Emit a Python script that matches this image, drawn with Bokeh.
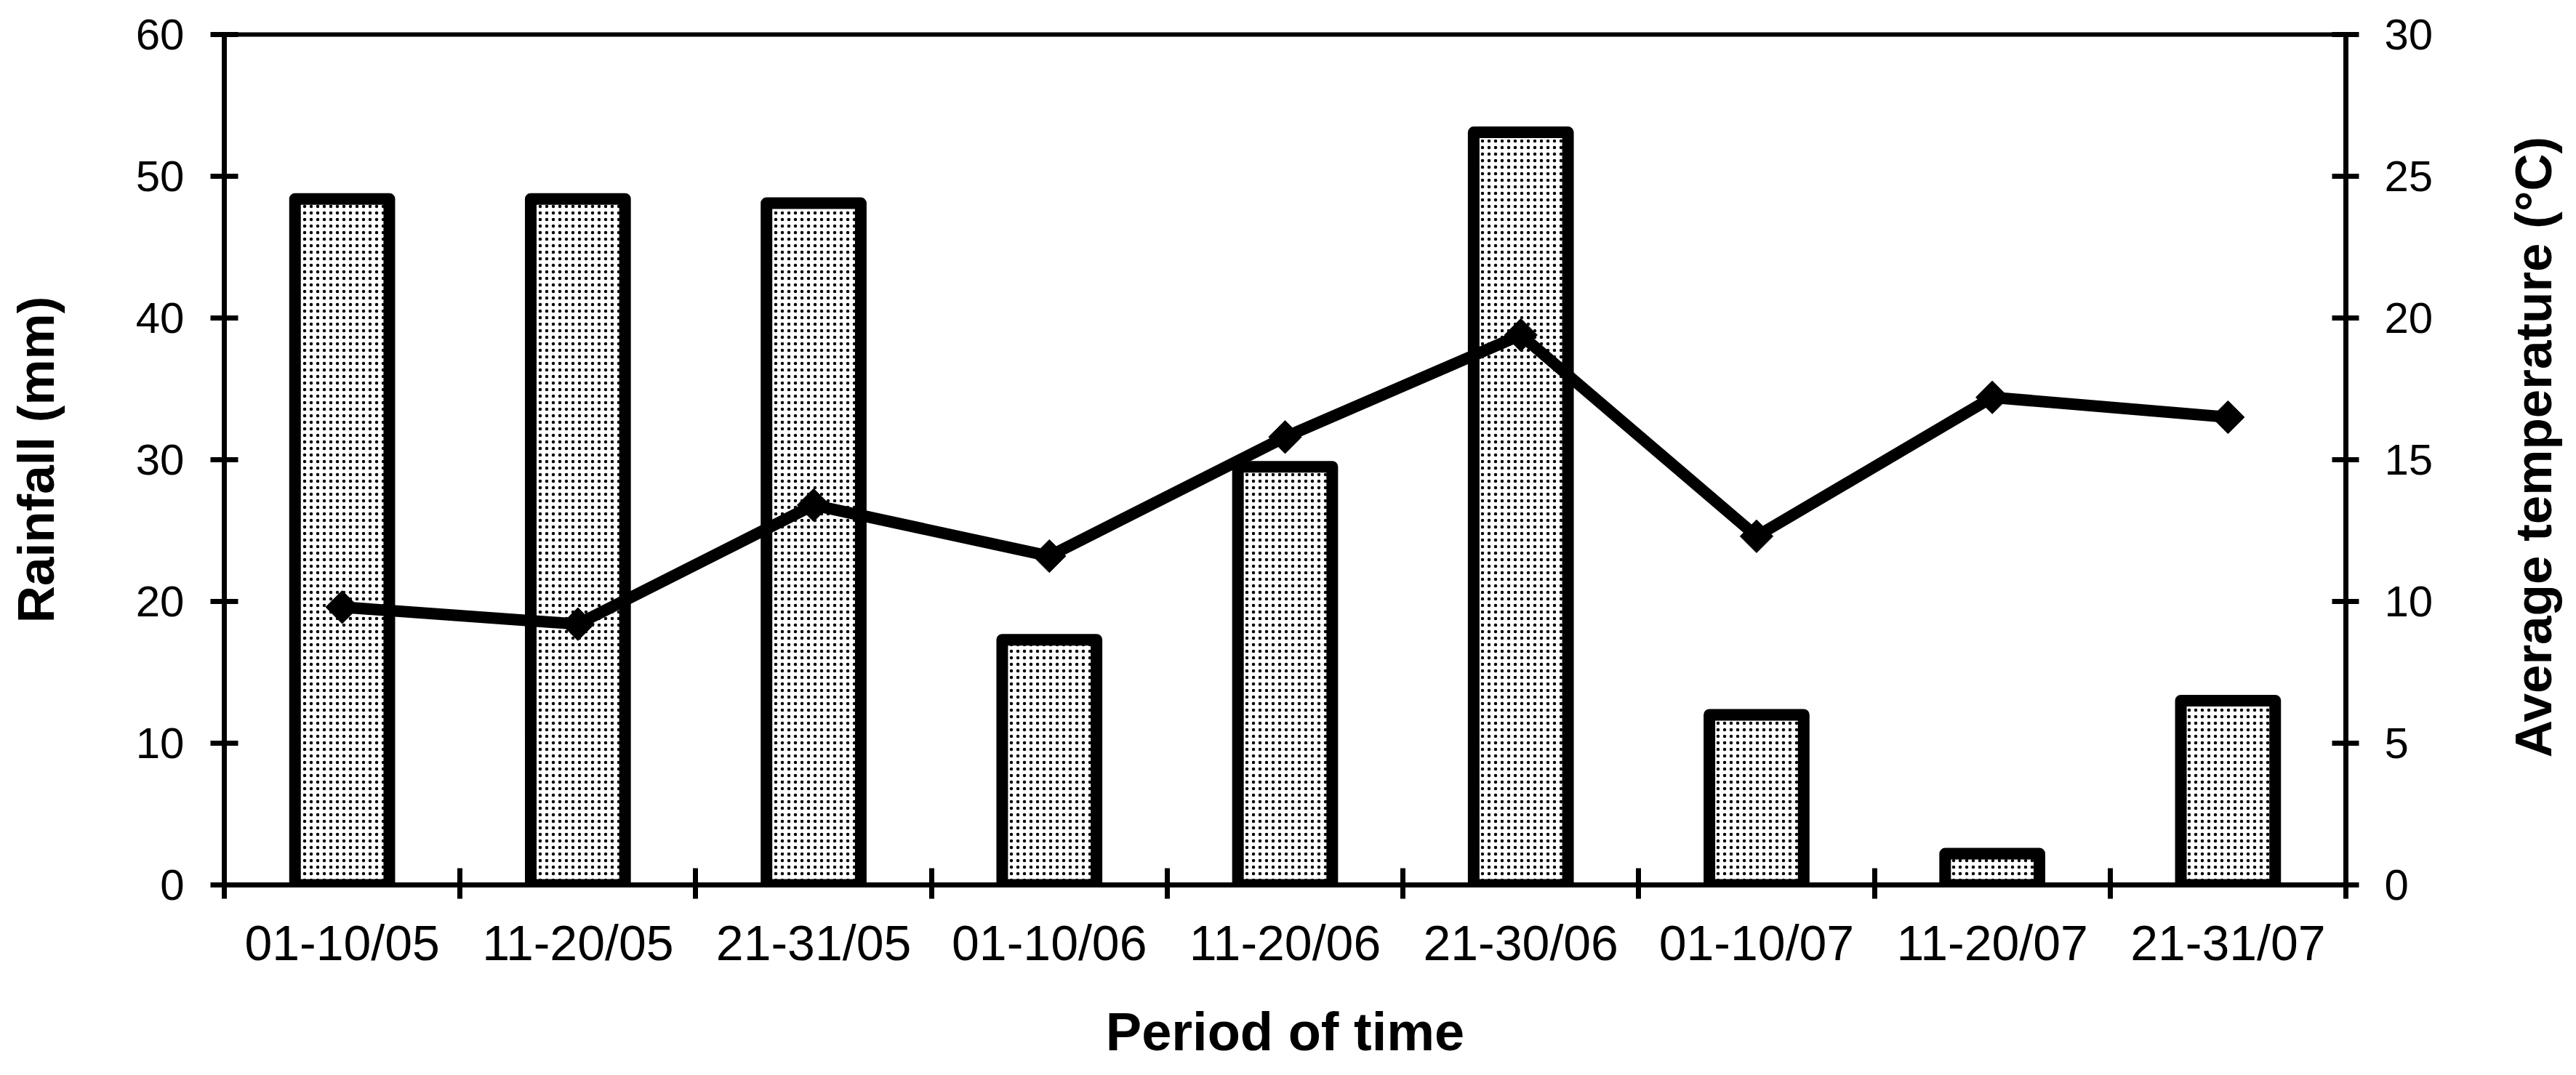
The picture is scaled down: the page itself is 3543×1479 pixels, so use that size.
import math
from bokeh.plotting import figure
from bokeh.layouts import row
from bokeh.models import Range1d, LinearAxis, FixedTicker, Label
from bokeh.embed import file_html
from bokeh.resources import INLINE

# ---- data ----
periods = ["01-10/05", "11-20/05", "21-31/05", "01-10/06", "11-20/06",
           "21-30/06", "01-10/07", "11-20/07", "21-31/07"]
rainfall = [48.4, 48.4, 48.1, 17.3, 29.5, 53.1, 12.0, 2.2, 13.0]
temperature = [9.8, 9.2, 13.4, 11.6, 15.8, 19.4, 12.3, 17.2, 16.5]
rain_ticks = [0, 10, 20, 30, 40, 50, 60]
temp_ticks = [0, 5, 10, 15, 20, 25, 30]

n = len(periods)
xc = [i + 0.5 for i in range(n)]
bounds = list(range(n + 1))

FONT = "Liberation Sans"
TOTAL_W, H = 3527, 1463
TITLE_W = 107
MAIN_W = TOTAL_W - TITLE_W
TOP, BOTTOM = 47, 245

p = figure(width=MAIN_W, height=H, output_backend="svg", toolbar_location=None,
           x_range=Range1d(0, n), y_range=Range1d(rain_ticks[0], rain_ticks[-1]),
           min_border_left=308, min_border_right=MAIN_W - 3226,
           min_border_top=TOP, min_border_bottom=BOTTOM)
p.extra_y_ranges = {"temp": Range1d(temp_ticks[0], temp_ticks[-1])}

p.xgrid.visible = False
p.ygrid.visible = False
p.background_fill_color = "white"
p.border_fill_color = "white"
p.outline_line_color = "black"
p.outline_line_width = 6

p.vbar(x=xc, top=rainfall, bottom=0, width=0.4, fill_color="white",
       line_color="black", line_width=16, line_join="round",
       hatch_pattern="dot", hatch_color="black", hatch_scale=9,
       hatch_weight=4)

p.line(x=xc, y=temperature, y_range_name="temp", line_color="black",
       line_width=16, line_join="miter")
p.scatter(x=xc, y=temperature, y_range_name="temp", marker="square",
          angle=math.pi / 4, size=32, fill_color="black", line_color="black",
          line_width=1)

# bottom axis: labels at category centres, ticks (minor) at boundaries
xa = p.xaxis[0]
xa.ticker = FixedTicker(ticks=xc, minor_ticks=bounds)
xa.major_label_overrides = {v: s for v, s in zip(xc, periods)}
xa.major_tick_in = 0
xa.major_tick_out = 0
xa.major_tick_line_color = None
xa.minor_tick_in = 23
xa.minor_tick_out = 19
xa.minor_tick_line_color = "black"
xa.minor_tick_line_width = 7
xa.axis_line_width = 7
xa.major_label_standoff = 22
xa.major_label_text_font = FONT
xa.major_label_text_font_size = "68px"
xa.major_label_text_color = "black"
xa.axis_label = "Period of time"
xa.axis_label_text_font = FONT
xa.axis_label_text_font_size = "74px"
xa.axis_label_text_font_style = "bold"
xa.axis_label_text_color = "black"
xa.axis_label_standoff = 40

# left axis
ya = p.yaxis[0]
ya.ticker = FixedTicker(ticks=rain_ticks)
ya.major_tick_in = 19
ya.major_tick_out = 19
ya.major_tick_line_width = 7
ya.axis_line_width = 7
ya.minor_tick_line_color = None
ya.major_label_standoff = 36
ya.major_label_text_font = FONT
ya.major_label_text_font_size = "60px"
ya.major_label_text_color = "black"
ya.axis_label = "Rainfall (mm)"
ya.axis_label_text_font = FONT
ya.axis_label_text_font_size = "71px"
ya.axis_label_text_font_style = "bold"
ya.axis_label_text_color = "black"
ya.axis_label_standoff = 95

# right axis
yr = LinearAxis(y_range_name="temp", ticker=FixedTicker(ticks=temp_ticks))
yr.major_tick_in = 19
yr.major_tick_out = 18
yr.major_tick_line_width = 7
yr.axis_line_width = 7
yr.minor_tick_line_color = None
yr.major_label_standoff = 35
yr.major_label_text_font = FONT
yr.major_label_text_font_size = "60px"
yr.major_label_text_color = "black"
p.add_layout(yr, "right")

# narrow companion figure carrying the right-hand title (reads bottom-to-top);
# its frame is aligned with the main plot's frame by the row layout
q = figure(width=TITLE_W, height=H, output_backend="svg", toolbar_location=None,
           x_range=Range1d(0, TITLE_W), y_range=Range1d(0, 1),
           x_axis_type=None, y_axis_type=None, title=None,
           min_border_left=0, min_border_right=0, min_border_top=0,
           min_border_bottom=0)
q.xgrid.visible = False
q.ygrid.visible = False
q.outline_line_color = None
q.background_fill_color = "white"
q.border_fill_color = "white"
q.add_layout(Label(x=3484 - MAIN_W, y=0.515,
                   text="Average temperature (°C)",
                   angle=math.pi / 2, text_align="center",
                   text_baseline="middle", text_font=FONT,
                   text_font_size="71px", text_font_style="bold",
                   text_color="black"))

layout = row(p, q, spacing=0)
open("out.html", "w").write(file_html(layout, INLINE))
